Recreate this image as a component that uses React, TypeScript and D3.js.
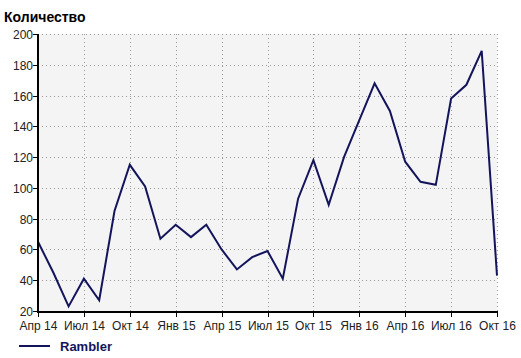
import React from "react";
import * as d3 from "d3";

const months: string[] = [
  "2014-04","2014-05","2014-06","2014-07","2014-08","2014-09","2014-10","2014-11","2014-12",
  "2015-01","2015-02","2015-03","2015-04","2015-05","2015-06","2015-07","2015-08","2015-09","2015-10","2015-11","2015-12",
  "2016-01","2016-02","2016-03","2016-04","2016-05","2016-06","2016-07","2016-08","2016-09","2016-10",
];
const ramblerValues: number[] = [
  65, 45, 23, 41, 27, 85, 115, 101, 67,
  76, 68, 76, 60, 47, 55, 59, 41, 93, 118, 89, 120,
  144, 168, 150, 117, 104, 102, 158, 167, 189, 43,
];
const xTickMonths: string[] = ["2014-04","2014-07","2014-10","2015-01","2015-04","2015-07","2015-10","2016-01","2016-04","2016-07","2016-10"];
const xTickLabels: string[] = ["Апр 14","Июл 14","Окт 14","Янв 15","Апр 15","Июл 15","Окт 15","Янв 16","Апр 16","Июл 16","Окт 16"];
const yTicks: number[] = [20, 40, 60, 80, 100, 120, 140, 160, 180, 200];
const seriesName = "Rambler";
const yTitle = "Количество";

const W = 521, H = 358;
const left = 38, right = 497, top = 34, bottom = 311;
const font = "'Liberation Sans', Arial, sans-serif";
const lineColor = "#14145c";

export default function App() {
  const x = d3.scalePoint<string>().domain(months).range([left, right]);
  const y = d3.scaleLinear().domain([20, 200]).range([bottom, top]);
  const data = months.map((m, i) => ({ m, v: ramblerValues[i] }));
  const line = d3.line<{ m: string; v: number }>().x(p => x(p.m)!).y(p => y(p.v));

  return (
    <svg width={W} height={H} style={{ position: "absolute", left: 0, top: 0, background: "#fff" }}>
      <text x={4} y={22} fontFamily={font} fontSize={14} fontWeight="bold" fill="#000">{yTitle}</text>
      <rect x={left} y={top} width={right - left} height={bottom - top} fill="#f4f4f4" />
      {yTicks.filter(t => t > 20).map(t => (
        <line key={"gy" + t} x1={left} x2={right} y1={Math.round(y(t)) + 0.5} y2={Math.round(y(t)) + 0.5}
          stroke="#999" strokeWidth={1} strokeDasharray="1,3" />
      ))}
      {xTickMonths.slice(1).map(t => {
        const xx = Math.round(x(t)!) + 0.5;
        return <line key={"gx" + t} x1={xx} x2={xx} y1={top} y2={bottom} stroke="#999" strokeWidth={1} strokeDasharray="1,3" />;
      })}
      <path d={line(data)!} fill="none" stroke={lineColor} strokeWidth={2} strokeLinejoin="miter" />
      <line x1={left} x2={left} y1={top} y2={bottom + 1} stroke="#000" strokeWidth={2} />
      <line x1={left - 1} x2={right + 1} y1={bottom + 1} y2={bottom + 1} stroke="#000" strokeWidth={2} />
      {yTicks.map(t => {
        const yy = Math.round(y(t)) + 0.5;
        return (
          <g key={"yt" + t}>
            <line x1={left - 5} x2={left} y1={yy} y2={yy} stroke="#000" strokeWidth={1} />
            <text x={33} y={yy + 4} textAnchor="end" fontFamily={font} fontSize={12} fill="#222">{t}</text>
          </g>
        );
      })}
      {xTickMonths.map((t, i) => {
        const xx = Math.round(x(t)!) + 0.5;
        return (
          <g key={"xt" + t}>
            <line x1={xx} x2={xx} y1={bottom} y2={bottom + 6} stroke="#000" strokeWidth={1} />
            <text x={xx} y={330} textAnchor="middle" fontFamily={font} fontSize={12} fill="#222">{xTickLabels[i]}</text>
          </g>
        );
      })}
      <line x1={19} x2={50} y1={346} y2={346} stroke={lineColor} strokeWidth={2} />
      <text x={60} y={351} fontFamily={font} fontSize={13} fontWeight="bold" fill={lineColor}>{seriesName}</text>
    </svg>
  );
}
